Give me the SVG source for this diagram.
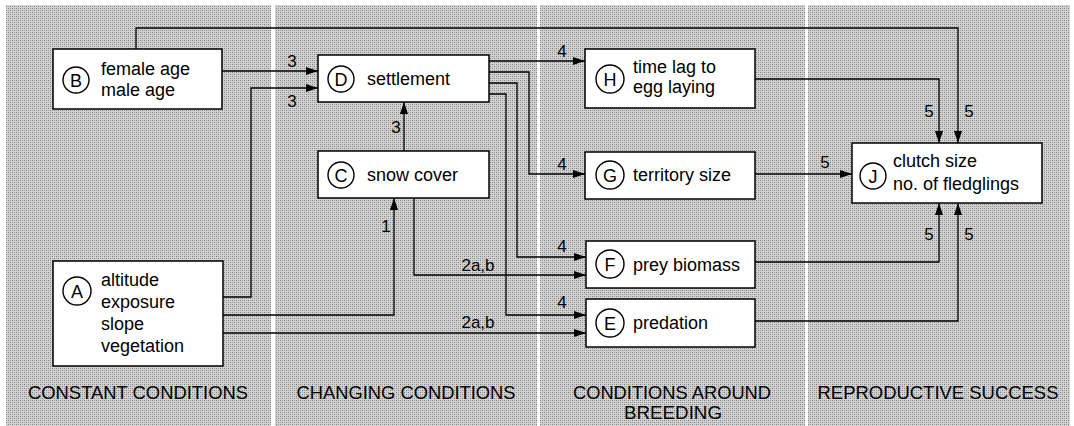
<svg xmlns="http://www.w3.org/2000/svg" width="1074" height="426" viewBox="0 0 1074 426">
  <defs>
    <pattern id="dither" x="0" y="0" width="4" height="4" patternUnits="userSpaceOnUse">
      <rect width="4" height="4" fill="#d2d2d2"/>
      <rect x="0" y="0" width="1" height="1" fill="#7c7c7c"/>
      <rect x="2" y="2" width="1" height="1" fill="#7c7c7c"/>
      <rect x="2" y="0" width="1" height="1" fill="#a4a4a4"/>
      <rect x="0" y="2" width="1" height="1" fill="#a4a4a4"/>
    </pattern>
    <marker id="arr" markerWidth="12" markerHeight="8" refX="12" refY="4" orient="auto" markerUnits="userSpaceOnUse">
      <path d="M0,0 L12,4 L0,8 z" fill="#000"/>
    </marker>
    <style>
      .box { fill: #fff; stroke: #000; stroke-width: 1.5; }
      .circ { fill: #fff; stroke: #000; stroke-width: 1.4; }
      .t { font-family: "Liberation Sans", Arial, sans-serif; font-size: 18px; fill: #000; }
      .lt { font-family: "Liberation Sans", Arial, sans-serif; font-size: 18px; fill: #000; text-anchor: middle; }
      .lab { font-family: "Liberation Sans", Arial, sans-serif; font-size: 17px; fill: #000; text-anchor: middle; }
      .col { font-family: "Liberation Sans", Arial, sans-serif; font-size: 19px; fill: #000; text-anchor: middle; }
      .edge { fill: none; stroke: #000; stroke-width: 1.3; }
      .arrow { marker-end: url(#arr); }
    </style>
  </defs>

  <!-- background -->
  <rect x="0" y="0" width="1074" height="426" fill="#fff"/>
  <rect x="6" y="5" width="1064" height="421" fill="url(#dither)"/>
  <rect x="271" y="0" width="4" height="426" fill="#fff"/>
  <rect x="537" y="0" width="3" height="426" fill="#fff"/>
  <rect x="805" y="0" width="3" height="426" fill="#fff"/>

  <!-- connectors -->
  <g id="connectors">
    <path class="edge arrow" d="M136,49 V28 H958 V143"/>
    <path class="edge arrow" d="M222,71 H318"/>
    <path class="edge arrow" d="M223,297 H251 V88 H318"/>
    <path class="edge arrow" d="M404,151 V102"/>
    <path class="edge arrow" d="M223,315 H394 V198"/>
    <path class="edge arrow" d="M414,198 V275 H586"/>
    <path class="edge arrow" d="M223,333 H586"/>
    <path class="edge arrow" d="M489,61 H585"/>
    <path class="edge arrow" d="M489,72 H529 V174 H585"/>
    <path class="edge arrow" d="M489,83 H517 V257 H586"/>
    <path class="edge arrow" d="M489,94 H506 V315 H586"/>
    <path class="edge arrow" d="M755,79 H939 V143"/>
    <path class="edge arrow" d="M755,174 H852"/>
    <path class="edge arrow" d="M755,262 H939 V203"/>
    <path class="edge arrow" d="M755,321 H958 V203"/>

    <text class="lab" x="292" y="67">3</text>
    <text class="lab" x="292" y="107">3</text>
    <text class="lab" x="396" y="133">3</text>
    <text class="lab" x="386" y="232">1</text>
    <text class="lab" x="478" y="271">2a,b</text>
    <text class="lab" x="478" y="328">2a,b</text>
    <text class="lab" x="562" y="57">4</text>
    <text class="lab" x="562" y="170">4</text>
    <text class="lab" x="562" y="252">4</text>
    <text class="lab" x="562" y="308">4</text>
    <text class="lab" x="929" y="117">5</text>
    <text class="lab" x="969" y="117">5</text>
    <text class="lab" x="825" y="168">5</text>
    <text class="lab" x="929" y="240">5</text>
    <text class="lab" x="969" y="240">5</text>
  </g>

  <!-- nodes -->
  <g id="nodeB">
    <rect class="box" x="53" y="49" width="169" height="60"/>
    <circle class="circ" cx="76" cy="80" r="13"/>
    <text class="lt" x="76" y="86.5">B</text>
    <text class="t" x="101" y="75">female age</text>
    <text class="t" x="101" y="96">male age</text>
  </g>
  <g id="nodeA">
    <rect class="box" x="53" y="261" width="170" height="105"/>
    <circle class="circ" cx="77" cy="291" r="14"/>
    <text class="lt" x="77" y="297.5">A</text>
    <text class="t" x="101" y="286">altitude</text>
    <text class="t" x="101" y="308">exposure</text>
    <text class="t" x="101" y="330">slope</text>
    <text class="t" x="101" y="352">vegetation</text>
  </g>
  <g id="nodeD">
    <rect class="box" x="318" y="55" width="171" height="47"/>
    <circle class="circ" cx="341" cy="79" r="13"/>
    <text class="lt" x="341" y="85.5">D</text>
    <text class="t" x="367" y="85">settlement</text>
  </g>
  <g id="nodeC">
    <rect class="box" x="318" y="151" width="171" height="47"/>
    <circle class="circ" cx="341" cy="175" r="13"/>
    <text class="lt" x="341" y="181.5">C</text>
    <text class="t" x="367" y="181">snow cover</text>
  </g>
  <g id="nodeH">
    <rect class="box" x="585" y="49" width="170" height="59"/>
    <circle class="circ" cx="610" cy="79" r="14"/>
    <text class="lt" x="610" y="85.5">H</text>
    <text class="t" x="633" y="73">time lag to</text>
    <text class="t" x="633" y="93">egg laying</text>
  </g>
  <g id="nodeG">
    <rect class="box" x="585" y="152" width="170" height="47"/>
    <circle class="circ" cx="610" cy="175" r="14"/>
    <text class="lt" x="610" y="181.5">G</text>
    <text class="t" x="633" y="181">territory size</text>
  </g>
  <g id="nodeF">
    <rect class="box" x="586" y="241" width="169" height="47"/>
    <circle class="circ" cx="610" cy="264" r="14"/>
    <text class="lt" x="610" y="270.5">F</text>
    <text class="t" x="633" y="271">prey biomass</text>
  </g>
  <g id="nodeE">
    <rect class="box" x="586" y="299" width="169" height="48"/>
    <circle class="circ" cx="610" cy="323" r="14"/>
    <text class="lt" x="610" y="329.5">E</text>
    <text class="t" x="633" y="329">predation</text>
  </g>
  <g id="nodeJ">
    <rect class="box" x="852" y="143" width="190" height="60"/>
    <circle class="circ" cx="873" cy="176" r="13"/>
    <text class="lt" x="873" y="182.5">J</text>
    <text class="t" x="893" y="167">clutch size</text>
    <text class="t" x="893" y="190">no. of fledglings</text>
  </g>

  <!-- column headings -->
  <g id="headings">
    <text class="col" x="138" y="399" textLength="220" lengthAdjust="spacingAndGlyphs">CONSTANT CONDITIONS</text>
    <text class="col" x="406" y="399" textLength="219" lengthAdjust="spacingAndGlyphs">CHANGING CONDITIONS</text>
    <text class="col" x="672" y="399" textLength="198" lengthAdjust="spacingAndGlyphs">CONDITIONS AROUND</text>
    <text class="col" x="673" y="419" textLength="98" lengthAdjust="spacingAndGlyphs">BREEDING</text>
    <text class="col" x="938" y="399" textLength="241" lengthAdjust="spacingAndGlyphs">REPRODUCTIVE SUCCESS</text>
  </g>
</svg>
